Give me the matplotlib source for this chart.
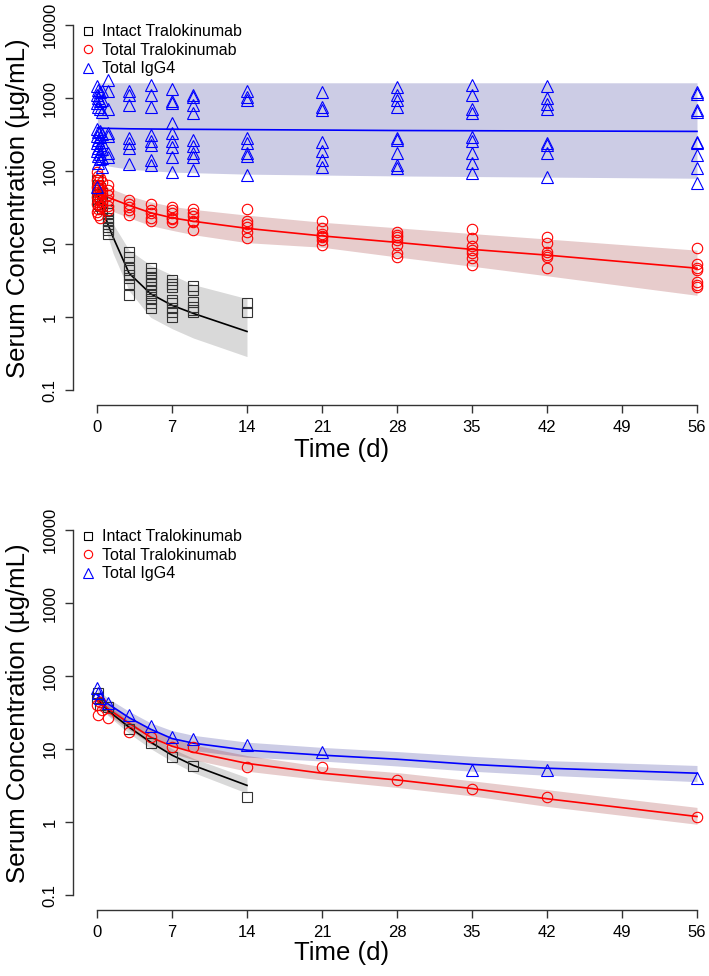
import matplotlib
matplotlib.use('Agg')
import matplotlib.pyplot as plt
from matplotlib.lines import Line2D

plt.rcParams['font.family'] = ['Liberation Sans', 'DejaVu Sans']

# ---------------- top panel: observed data (all subjects) ----------------
top_times = [0.04, 0.1, 0.25, 0.5, 1, 3, 5, 7, 9, 14, 21, 28, 35, 42, 56]

top_igg4 = [
    [1450, 1100, 850, 380, 300, 240, 190, 60],
    [1300, 1000, 750, 340, 270, 210, 160, 130],
    [1200, 900, 700, 360, 290, 230, 170, 145],
    [1250, 950, 650, 320, 250, 200, 150, 115],
    [1750, 1250, 720, 330, 300, 180, 155],
    [1250, 1100, 800, 280, 240, 210, 125],
    [1500, 1100, 760, 310, 260, 225, 140, 120],
    [1330, 900, 860, 450, 330, 260, 215, 155, 97],
    [1100, 1050, 800, 620, 265, 220, 180, 155, 103],
    [1250, 1050, 940, 280, 240, 175, 160, 88],
    [1200, 760, 690, 250, 190, 140, 113],
    [1420, 1100, 930, 760, 280, 270, 175, 120, 110],
    [1500, 1100, 700, 620, 290, 260, 175, 130, 94],
    [1470, 1000, 820, 720, 240, 225, 180, 83],
    [1200, 1150, 690, 650, 250, 240, 165, 110, 68],
]

top_total = [
    [97, 75, 60, 45, 35, 28],
    [85, 65, 52, 40, 30, 25],
    [80, 62, 50, 42, 33, 23],
    [70, 55, 48, 38, 32],
    [64, 55, 47, 40, 33, 29],
    [40, 36, 32, 29, 25],
    [36, 29, 27, 23, 21],
    [32, 29, 27, 23, 22, 20],
    [30, 27, 24, 21, 20, 15.5],
    [30, 21, 19, 17, 14.6, 12],
    [21, 16.5, 14, 13, 12.4, 11.4, 9.7],
    [14.6, 13.2, 12.4, 11.4, 9.7, 7.5, 6.6],
    [16, 12, 9.4, 8.3, 7.5, 6.4, 5.2],
    [12.4, 10.3, 7.8, 7.1, 6.6, 4.8],
    [8.8, 5.3, 4.8, 4.5, 3.0, 2.8, 2.6],
]

top_intact = [
    [75, 55, 42],
    [65, 48, 36],
    [58, 44, 33],
    [50, 38, 30],
    [29, 27, 23, 21, 19, 17, 15.5, 14],
    [7.8, 6.6, 4.7, 4.4, 3.8, 3.4, 2.9, 2.0],
    [4.7, 4.1, 3.6, 3.2, 2.9, 2.6, 2.3, 2.0, 1.8, 1.55, 1.33],
    [3.2, 2.9, 2.6, 1.7, 1.55, 1.33, 1.17, 1.0],
    [2.65, 2.34, 1.6, 1.37, 1.25, 1.17],
    [1.55, 1.2],
    [], [], [], [], [],
]

# top panel: model median and prediction interval
top_igg4_t = [0.04, 1, 3, 7, 14, 28, 56]
top_igg4_med = [390, 385, 380, 375, 370, 360, 350]
top_igg4_hi = [1620, 1620, 1620, 1620, 1620, 1620, 1620]
top_igg4_lo = [140, 118, 106, 97, 91, 86, 80]

top_total_t = [0.04, 1, 3, 5, 7, 9, 14, 21, 28, 35, 42, 56]
top_total_med = [52, 44, 34, 27, 23, 20.6, 16.5, 13, 10.6, 8.5, 7.1, 4.7]
top_total_hi = [80, 60, 46, 38, 33, 30, 25, 20, 16.8, 14, 11.8, 8.3]
top_total_lo = [33, 30, 23, 18, 15.5, 13.5, 10.5, 9.1, 6.7, 5.0, 3.7, 2.0]

top_intact_t = [0.04, 0.5, 1, 1.5, 3, 5, 7, 9, 14]
top_intact_med = [50, 32, 19, 12.5, 4.0, 2.1, 1.46, 1.13, 0.64]
top_intact_hi = [70, 45, 27, 19, 8.3, 5.2, 3.8, 2.8, 1.8]
top_intact_lo = [38, 22, 13, 7.5, 2.3, 1.0, 0.7, 0.52, 0.29]

# ---------------- bottom panel: single subject ----------------
bot_igg4_t = [0.04, 0.1, 0.25, 1, 3, 5, 7, 9, 14, 21, 35, 42, 56]
bot_igg4 = [68, 58, 50, 43, 29, 20.7, 14.6, 13.7, 11.3, 9.1, 5.2, 5.2, 4.1]
bot_total_t = [0.04, 0.1, 0.25, 0.5, 1, 3, 5, 7, 9, 14, 21, 28, 35, 42, 56]
bot_total = [40, 29, 44, 34, 27, 17, 14.6, 10.6, 10.6, 5.7, 5.7, 3.8, 2.9, 2.2, 1.2]
bot_intact_t = [0.04, 0.1, 0.25, 1, 3, 5, 7, 9, 14]
bot_intact = [50, 58, 40, 38, 18.8, 12.1, 7.8, 5.9, 2.2]

bot_t = [0.04, 1, 3, 5, 7, 9, 14, 21, 28, 35, 42, 56]
bot_igg4_med = [55, 42, 27, 18.8, 14, 12.1, 9.7, 8.3, 7.3, 6.2, 5.5, 4.7]
bot_igg4_hi = [66, 50, 33, 23, 18, 15.5, 12.5, 10.6, 9.3, 8.0, 7.0, 6.0]
bot_igg4_lo = [46, 35, 21, 15, 11, 9.6, 7.8, 6.9, 5.9, 5.0, 4.4, 3.6]
bot_total_med = [45, 36, 22.7, 14.6, 11, 9.1, 6.4, 4.7, 3.8, 2.9, 2.1, 1.2]
bot_total_hi = [55, 43, 28, 18.5, 14, 11.5, 8.2, 5.8, 4.8, 3.7, 2.8, 1.6]
bot_total_lo = [37, 30, 18.5, 11.8, 8.8, 7.2, 5.0, 3.8, 3.0, 2.3, 1.65, 0.94]
bot_intact_t2 = [0.04, 1, 3, 5, 7, 9, 14]
bot_intact_med = [50, 34, 20, 12.5, 8.3, 6.0, 3.2]
bot_intact_hi = [58, 40, 24, 15.3, 10.2, 7.5, 4.1]
bot_intact_lo = [43, 29, 16.5, 10.2, 6.8, 4.8, 2.5]

xticks = [0, 7, 14, 21, 28, 35, 42, 49, 56]
yticks = [0.1, 1, 10, 100, 1000, 10000]
ytick_labels = ['0.1', '1', '10', '100', '1000', '10000']

BLUE = '#0000ff'
RED = '#ff0000'
BLACK = '#000000'
AXCOL = '#333333'


def flatten(times, groups):
    xs, ys = [], []
    for t, vals in zip(times, groups):
        for v in vals:
            xs.append(t)
            ys.append(v)
    return xs, ys


def style_axes(ax):
    ax.set_yscale('log')
    ax.set_xlim(-2.24, 58.24)
    ax.set_ylim(10 ** -1.2, 10 ** 4.2)
    for s in ['top', 'right']:
        ax.spines[s].set_visible(False)
    ax.spines['left'].set_bounds(0.1, 10000)
    ax.spines['bottom'].set_bounds(0, 56)
    for s in ['left', 'bottom']:
        ax.spines[s].set_color(AXCOL)
        ax.spines[s].set_linewidth(1.0)
    ax.set_xticks(xticks)
    ax.set_xticklabels([str(x) for x in xticks], fontsize=12)
    ax.set_yticks(yticks)
    ax.set_yticklabels(ytick_labels, fontsize=12, rotation=90, va='center')
    ax.yaxis.set_minor_locator(matplotlib.ticker.NullLocator())
    ax.tick_params(length=6, width=1.0, color=AXCOL, pad=5)
    handles = [
        Line2D([], [], ls='none', marker='s', mfc='none', mec=BLACK, ms=6, mew=0.8),
        Line2D([], [], ls='none', marker='o', mfc='none', mec=RED, ms=6, mew=0.8),
        Line2D([], [], ls='none', marker='^', mfc='none', mec=BLUE, ms=7, mew=0.8),
    ]
    ax.legend(handles, ['Intact Tralokinumab', 'Total Tralokinumab', 'Total IgG4'],
              loc='upper left', bbox_to_anchor=(0.012, 0.965), frameon=False,
              fontsize=11.5, handlelength=0.95, handletextpad=0.4,
              labelspacing=0.22, borderpad=0, borderaxespad=0)


fig = plt.figure(figsize=(7.09, 9.76), dpi=100)
ax1 = fig.add_axes([73 / 709, 1 - 405 / 976, 648 / 709, 394.6 / 976])
ax2 = fig.add_axes([73 / 709, 1 - 910 / 976, 648 / 709, 394.6 / 976])

mk = dict(ls='none', mfc='none', mew=0.8)

# top panel
ax1.fill_between(top_igg4_t, top_igg4_lo, top_igg4_hi, color='navy', alpha=0.2, lw=0)
ax1.fill_between(top_total_t, top_total_lo, top_total_hi, color='darkred', alpha=0.2, lw=0)
ax1.fill_between(top_intact_t, top_intact_lo, top_intact_hi, color='black', alpha=0.15, lw=0)
ax1.plot(top_igg4_t, top_igg4_med, color=BLUE, lw=1.2)
ax1.plot(top_total_t, top_total_med, color=RED, lw=1.2)
ax1.plot(top_intact_t, top_intact_med, color=BLACK, lw=1.2)
x, y = flatten(top_times, top_intact)
ax1.plot(x, y, marker='s', mec='#333333', ms=7, **mk)
x, y = flatten(top_times, top_total)
ax1.plot(x, y, marker='o', mec=RED, ms=7.5, **mk)
x, y = flatten(top_times, top_igg4)
ax1.plot(x, y, marker='^', mec=BLUE, ms=8, **mk)
style_axes(ax1)

# bottom panel
ax2.fill_between(bot_t, bot_igg4_lo, bot_igg4_hi, color='navy', alpha=0.2, lw=0)
ax2.fill_between(bot_t, bot_total_lo, bot_total_hi, color='darkred', alpha=0.2, lw=0)
ax2.fill_between(bot_intact_t2, bot_intact_lo, bot_intact_hi, color='black', alpha=0.15, lw=0)
ax2.plot(bot_t, bot_igg4_med, color=BLUE, lw=1.2)
ax2.plot(bot_t, bot_total_med, color=RED, lw=1.2)
ax2.plot(bot_intact_t2, bot_intact_med, color=BLACK, lw=1.2)
ax2.plot(bot_intact_t, bot_intact, marker='s', mec='#333333', ms=7, **mk)
ax2.plot(bot_total_t, bot_total, marker='o', mec=RED, ms=7.5, **mk)
ax2.plot(bot_igg4_t, bot_igg4, marker='^', mec=BLUE, ms=8, **mk)
style_axes(ax2)

# axis titles
for yc, yx in [(208, 450), (713, 953)]:
    fig.text(18 / 709, 1 - yc / 976, 'Serum Concentration (\u00b5g/mL)', rotation=90,
             ha='center', va='center', fontsize=18.5)
    fig.text(342 / 709, 1 - yx / 976, 'Time (d)', ha='center', va='center', fontsize=18.5)

fig.savefig('out.png', dpi=100)
